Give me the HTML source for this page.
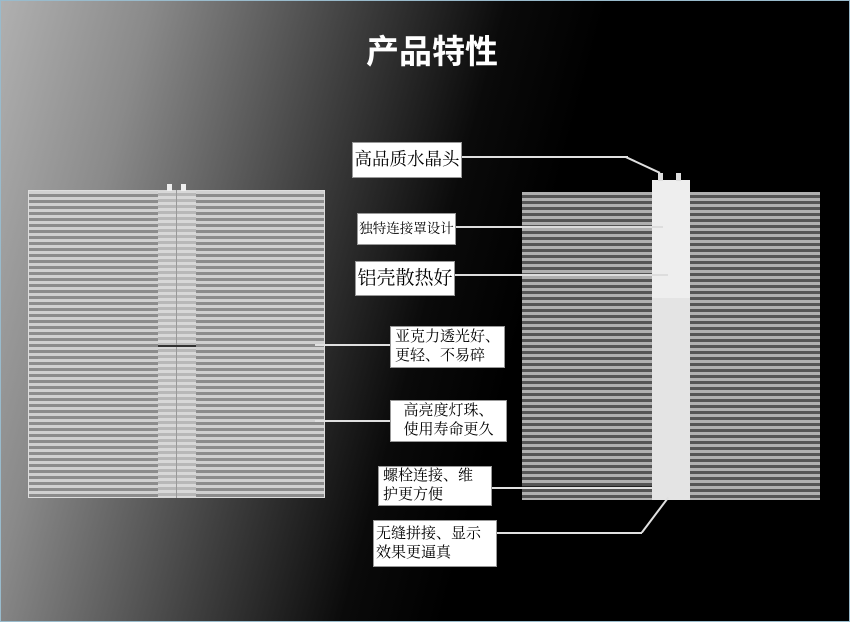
<!DOCTYPE html>
<html><head><meta charset="utf-8"><style>
body{margin:0;width:850px;height:622px;overflow:hidden;position:relative;font-family:"Liberation Serif","Noto Serif CJK SC",serif;
background:linear-gradient(105deg,#b0b0b0 0%,#8a8a8a 15%,#404040 35%,#0a0a0a 50%,#000 60%);}
.p{position:absolute}
.lp{left:28px;top:190px;width:297px;height:308px;border:1px solid #ddd;box-sizing:border-box;
background:repeating-linear-gradient(180deg,#d0d0d0 0 3px,#8c8c8c 3px 6px);}
.rp{left:522px;top:192px;width:298px;height:308px;
background:repeating-linear-gradient(180deg,#b0b0b0 0 3px,#555 3px 6px);}
.lab{position:absolute;background:#fff;border:1px solid #999;color:#000;box-sizing:border-box;display:flex;align-items:center;justify-content:center;line-height:1.25;white-space:nowrap}
.ln{position:absolute;height:2px;background:#e0e0e0}
</style></head><body>
<div class="p" style="left:0;top:0;width:850px;height:622px;border:1px solid #9bc;box-sizing:border-box"></div>
<div class="p" style="left:0;top:25px;width:850px;text-align:center;color:#fff;font:bold 33px 'Liberation Sans','Noto Sans CJK SC',sans-serif;padding-left:14px;box-sizing:border-box">产品特性</div>
<div class="p lp"></div>
<div class="p" style="left:158px;top:190px;width:38px;height:308px;background:repeating-linear-gradient(180deg,#d8d8d8 0 3px,#b8b8b8 3px 6px)"></div>
<div class="p" style="left:176px;top:190px;width:1px;height:308px;background:#999"></div>
<div class="p" style="left:158px;top:345px;width:38px;height:2px;background:#333"></div>
<div class="p" style="left:167px;top:184px;width:5px;height:7px;background:#eee"></div>
<div class="p" style="left:181px;top:184px;width:5px;height:7px;background:#eee"></div>
<div class="p rp"></div>
<div class="p" style="left:652px;top:180px;width:38px;height:320px;background:#eee"></div>
<div class="p" style="left:652px;top:298px;width:38px;height:202px;background:#e4e4e4"></div>
<div class="p" style="left:658px;top:173px;width:5px;height:8px;background:#ddd"></div>
<div class="p" style="left:676px;top:173px;width:5px;height:8px;background:#ddd"></div>
<div class="p" style="left:522px;top:486px;width:130px;height:2px;background:#222"></div>

<div class="ln" style="left:462px;top:156px;width:166px"></div>
<div class="ln" style="left:626px;top:156px;width:38px;transform-origin:0 0;transform:rotate(25deg)"></div>
<div class="ln" style="left:456px;top:226px;width:207px;background:#ddd"></div>
<div class="ln" style="left:455px;top:274px;width:213px;background:#ddd"></div>
<div class="ln" style="left:315px;top:344px;width:75px"></div>
<div class="ln" style="left:315px;top:420px;width:75px"></div>
<div class="ln" style="left:492px;top:487px;width:160px"></div>
<div class="ln" style="left:497px;top:532px;width:145px"></div>
<div class="ln" style="left:641px;top:532px;width:44px;transform-origin:0 0;transform:rotate(-53deg)"></div>

<div class="lab" style="left:352px;top:142px;width:110px;height:36px;font-size:17.5px">高品质水晶头</div>
<div class="lab" style="left:357px;top:213px;width:99px;height:32px;font-size:13.5px">独特连接罩设计</div>
<div class="lab" style="left:355px;top:261px;width:100px;height:35px;font-size:19px">铝壳散热好</div>
<div class="lab" style="left:390px;top:326px;width:115px;height:42px;font-size:15px">亚克力透光好、<br>更轻、不易碎</div>
<div class="lab" style="left:390px;top:400px;width:117px;height:42px;font-size:15px">高亮度灯珠、<br>使用寿命更久</div>
<div class="lab" style="left:378px;top:466px;width:114px;height:40px;font-size:15px;justify-content:flex-start;padding-left:4px">螺栓连接、维<br>护更方便</div>
<div class="lab" style="left:373px;top:520px;width:124px;height:47px;font-size:15px;justify-content:flex-start;padding-left:2px">无缝拼接、显示<br>效果更逼真</div>
</body></html>
